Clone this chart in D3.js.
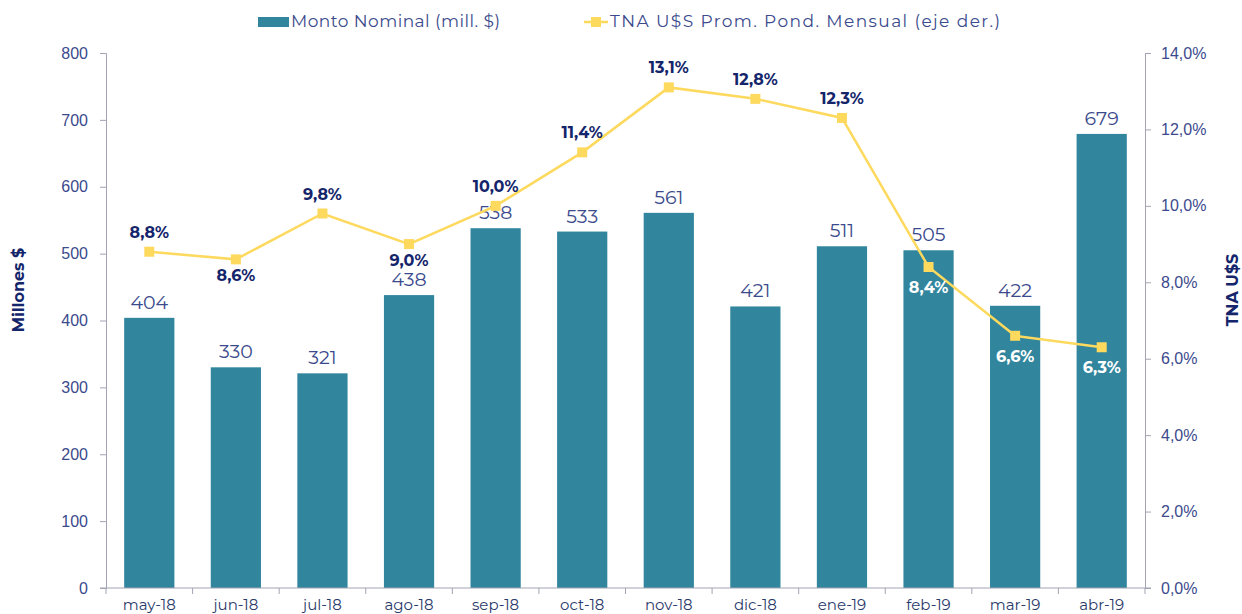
<!DOCTYPE html>
<html>
<head>
<meta charset="utf-8">
<script src="https://cdn.jsdelivr.net/npm/d3@7"></script>
<style>
  body { margin: 0; background: #fff; }
  svg { font-family: "Montserrat", "Open Sans", "DejaVu Sans", sans-serif; }
</style>
</head>
<body>
<div id="chart"></div>
<script>
// data
var months = ["may-18","jun-18","jul-18","ago-18","sep-18","oct-18","nov-18","dic-18","ene-19","feb-19","mar-19","abr-19"];
var monto = [404, 330, 321, 438, 538, 533, 561, 421, 511, 505, 422, 679];
var tna = [8.8, 8.6, 9.8, 9.0, 10.0, 11.4, 13.1, 12.8, 12.3, 8.4, 6.6, 6.3];
// where the % label sits: "up" above the point, "down" below, "in" white inside the bar
var tnaLabelPos = ["up","down","up","down","up","up","up","up","up","in","in","in"];
var leftTicks = [0, 100, 200, 300, 400, 500, 600, 700, 800];
var rightTicks = [0, 2, 4, 6, 8, 10, 12, 14];

var width = 1242, height = 614;
var margin = {top: 53, right: 97, bottom: 26, left: 106};

var barColor = "#31869e";
var lineColor = "#fdd95e";
var navy = "#14256b";
var tickColor = "#3b4a8c";
var axisColor = "#a3a3b3";

var svg = d3.select("#chart").append("svg")
    .attr("width", width)
    .attr("height", height);

var x = d3.scaleBand()
    .domain(months)
    .range([margin.left, width - margin.right])
    .paddingInner(0.42)
    .paddingOuter(0.21);

var yL = d3.scaleLinear().domain([0, 800]).range([height - margin.bottom, margin.top]);
var yR = d3.scaleLinear().domain([0, 14]).range([height - margin.bottom, margin.top]);

var fmtPct = function(v) { return v.toFixed(1).replace(".", ",") + "%"; };

// bars
svg.append("g").selectAll("rect")
    .data(monto)
    .enter().append("rect")
    .attr("x", (d, i) => x(months[i]))
    .attr("y", d => yL(d))
    .attr("width", x.bandwidth())
    .attr("height", d => yL(0) - yL(d))
    .attr("fill", barColor);

// bar labels
svg.append("g").selectAll("text")
    .data(monto)
    .enter().append("text")
    .attr("x", (d, i) => x(months[i]) + x.bandwidth() / 2)
    .attr("y", d => yL(d) - 9)
    .attr("text-anchor", "middle")
    .attr("font-size", 19)
    .attr("fill", tickColor)
    .text(d => d);

// left axis
var axL = svg.append("g")
    .attr("transform", "translate(" + margin.left + ",0)")
    .call(d3.axisLeft(yL).tickValues(leftTicks).tickSize(6).tickPadding(12));
axL.selectAll("text").attr("font-size", 16).attr("fill", tickColor).attr("font-family", "inherit");

// right axis
var axR = svg.append("g")
    .attr("transform", "translate(" + (width - margin.right) + ",0)")
    .call(d3.axisRight(yR).tickValues(rightTicks).tickFormat(fmtPct).tickSize(6).tickPadding(10));
axR.selectAll("text").attr("font-size", 16).attr("fill", tickColor).attr("font-family", "inherit");

// bottom axis, ticks between categories
var axB = svg.append("g")
    .attr("transform", "translate(0," + yL(0) + ")");
axB.append("line")
    .attr("x1", margin.left - 6).attr("x2", width - margin.right + 6)
    .attr("y1", 0).attr("y2", 0)
    .attr("stroke", axisColor);
axB.selectAll("line.tk")
    .data(d3.range(months.length + 1))
    .enter().append("line")
    .attr("class", "tk")
    .attr("x1", i => margin.left + i * (width - margin.right - margin.left) / months.length)
    .attr("x2", i => margin.left + i * (width - margin.right - margin.left) / months.length)
    .attr("y1", 0).attr("y2", 6)
    .attr("stroke", axisColor);
axB.selectAll("text")
    .data(months)
    .enter().append("text")
    .attr("x", d => x(d) + x.bandwidth() / 2)
    .attr("y", 22)
    .attr("text-anchor", "middle")
    .attr("font-size", 15)
    .attr("fill", "#2a3a6a")
    .text(d => d);

svg.selectAll(".domain, .tick line").attr("stroke", axisColor);

// line
var line = d3.line()
    .x((d, i) => x(months[i]) + x.bandwidth() / 2)
    .y(d => yR(d));
svg.append("path")
    .datum(tna)
    .attr("d", line)
    .attr("fill", "none")
    .attr("stroke", lineColor)
    .attr("stroke-width", 2.5);

svg.append("g").selectAll("rect")
    .data(tna)
    .enter().append("rect")
    .attr("x", (d, i) => x(months[i]) + x.bandwidth() / 2 - 5)
    .attr("y", d => yR(d) - 5)
    .attr("width", 10)
    .attr("height", 10)
    .attr("fill", lineColor);

// % labels
svg.append("g").selectAll("text")
    .data(tna)
    .enter().append("text")
    .attr("x", (d, i) => x(months[i]) + x.bandwidth() / 2)
    .attr("y", (d, i) => tnaLabelPos[i] == "up" ? yR(d) - 14 : yR(d) + 22 + (tnaLabelPos[i] == "in" ? 4 : 0))
    .attr("text-anchor", "middle")
    .attr("font-size", 16)
    .attr("font-weight", "bold")
    .attr("fill", (d, i) => tnaLabelPos[i] == "in" ? "#ffffff" : navy)
    .text(d => fmtPct(d));

// axis titles
svg.append("text")
    .attr("transform", "translate(24,290) rotate(-90)")
    .attr("text-anchor", "middle")
    .attr("font-size", 16)
    .attr("font-weight", "bold")
    .attr("fill", navy)
    .text("Millones $");
svg.append("text")
    .attr("transform", "translate(1238,290) rotate(-90)")
    .attr("text-anchor", "middle")
    .attr("font-size", 16)
    .attr("font-weight", "bold")
    .attr("fill", navy)
    .text("TNA U$S");

// legend
var leg = svg.append("g");
leg.append("rect").attr("x", 258).attr("y", 17).attr("width", 31).attr("height", 10).attr("fill", barColor);
leg.append("text").attr("x", 291).attr("y", 27).attr("font-size", 17).attr("fill", tickColor)
    .attr("textLength", 209).attr("lengthAdjust", "spacing")
    .text("Monto Nominal (mill. $)");
leg.append("line").attr("x1", 584).attr("x2", 608).attr("y1", 22).attr("y2", 22)
    .attr("stroke", lineColor).attr("stroke-width", 2.5);
leg.append("rect").attr("x", 591).attr("y", 17).attr("width", 10).attr("height", 10).attr("fill", lineColor);
leg.append("text").attr("x", 610).attr("y", 27).attr("font-size", 17).attr("fill", tickColor)
    .attr("textLength", 390).attr("lengthAdjust", "spacing")
    .text("TNA U$S Prom. Pond. Mensual (eje der.)");
</script>
</body>
</html>
